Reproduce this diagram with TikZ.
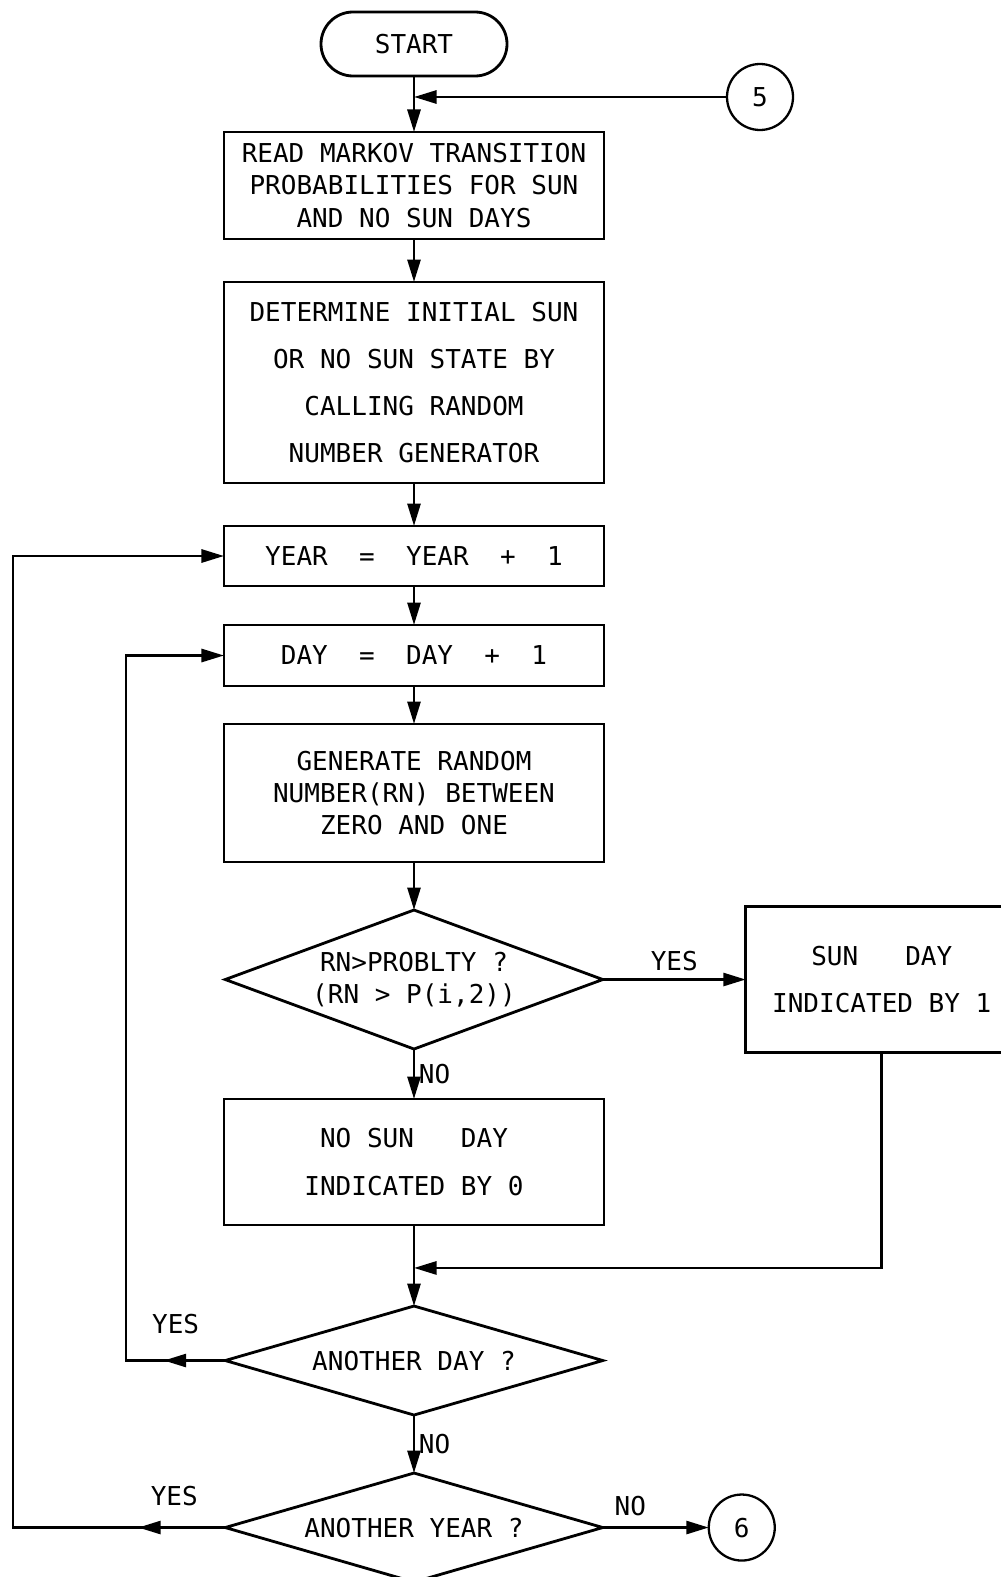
\documentclass[tikz,border=0pt]{standalone}
\usepackage{fontspec}
\newfontfamily\plotfont{DejaVu Sans Mono}
\usetikzlibrary{arrows.meta,positioning,shapes.geometric,calc,decorations.markings}

\begin{document}
\begin{tikzpicture}[
x=0.2mm,y=-0.2mm,
every node/.style={font=\plotfont\fontsize{14.8}{18.3}\selectfont},
box/.style={draw,line width=1.6pt,align=center,minimum width=7.6cm,inner sep=0pt,outer sep=0pt},
decide/.style={draw,diamond,aspect=2.7,line width=1.6pt,align=center,inner sep=0pt,outer sep=0pt,minimum width=7.55cm},
conn/.style={draw,circle,line width=1.3pt,minimum size=1.32cm,inner sep=0pt,outer sep=0pt},
lbl/.style={inner sep=0pt},
line/.style={line width=1.6pt,line cap=rect},
arrow/.style={line width=1.6pt,-{Triangle[length=4.5mm,width=2.6mm]}},
midtip/.style={postaction={decorate},decoration={markings,mark=at position #1 with {\arrow{Triangle[length=4.5mm,width=2.6mm]}}}}
]
\useasboundingbox (0,0) rectangle (1000,1577);
% main column
\node[box,minimum width=3.72cm,minimum height=1.28cm,rounded corners=0.64cm] (start) at (414,44) {START};
\node[box,minimum height=2.14cm,below=1.12cm of start] (read) {READ MARKOV TRANSITION\\PROBABILITIES FOR SUN\\AND NO SUN DAYS};
\node[box,minimum height=4.02cm,below=0.86cm of read] (init) {DETERMINE INITIAL SUN\\[3mm]OR NO SUN STATE BY\\[3mm]CALLING RANDOM\\[3mm]NUMBER GENERATOR};
\node[box,minimum height=1.2cm,below=0.86cm of init] (year) {YEAR~~=~~YEAR~~+~~1};
\node[box,minimum height=1.22cm,below=0.78cm of year] (day) {DAY~~=~~DAY~~+~~1};
\node[box,minimum height=2.76cm,below=0.76cm of day] (gen) {GENERATE RANDOM\\NUMBER(RN) BETWEEN\\ZERO AND ONE};
\node[decide,minimum height=2.78cm,below=0.96cm of gen] (sunq) {RN>PROBLTY ?\\(RN > P(i,2))};
\node[box,minimum width=5.44cm,minimum height=2.92cm,right=2.86cm of sunq] (sunday) {SUN~~~DAY\\[3mm]INDICATED BY 1};
\node[box,minimum height=2.52cm,below=1.0cm of sunq] (nosun) {NO SUN~~~DAY\\[3mm]INDICATED BY 0};
\node[decide,minimum height=2.18cm,below=1.62cm of nosun] (dayq) {ANOTHER DAY ?};
\node[decide,minimum height=2.18cm,below=1.16cm of dayq] (yearq) {ANOTHER YEAR ?};
% connectors
\node[conn] (c5) at (760,97) {5};
\node[conn,right=2.12cm of yearq] (c6) {6};
\coordinate (dayx) at (126,0);
\coordinate (yearx) at (13,0);
\coordinate (mj) at ($(nosun.south)!0.53!(dayq.north)$);

\draw[arrow] (start.south) -- (read.north);
\draw[arrow] (c5.west) -- (c5.west -| start.south);
\draw[arrow] (read) -- (init);
\draw[arrow] (init) -- (year);
\draw[arrow] (year) -- (day);
\draw[arrow] (day) -- (gen);
\draw[arrow] (gen) -- (sunq);
\draw[arrow] (sunq.east) -- node[lbl,above=4pt] (yes1) {YES} (sunday.west);
\draw[arrow] (sunq.south) -- node[lbl,right=2pt] (no1) {NO} (nosun.north);
\draw[arrow] (nosun.south) -- (dayq.north);
\draw[arrow] (sunday.south) |- (mj);
\draw[line,midtip=0.62] (dayq.west) -- node[lbl,above=0.5cm] (yes2) {YES} (dayq.west -| dayx);
\draw[arrow] (dayq.west -| dayx) |- (day.west);
\draw[arrow] (dayq.south) -- node[lbl,right=2pt] (no2) {NO} (yearq.north);
\draw[line,midtip=0.41] (yearq.west) -- node[lbl,pos=0.24,above=0.4cm] (yes3) {YES} (yearq.west -| yearx);
\draw[arrow] (yearq.west -| yearx) |- (year.west);
\draw[arrow] (yearq.east) -- node[lbl,pos=0.26,above=0.2cm] (no3) {NO} (c6.west);
\end{tikzpicture}
\end{document}
